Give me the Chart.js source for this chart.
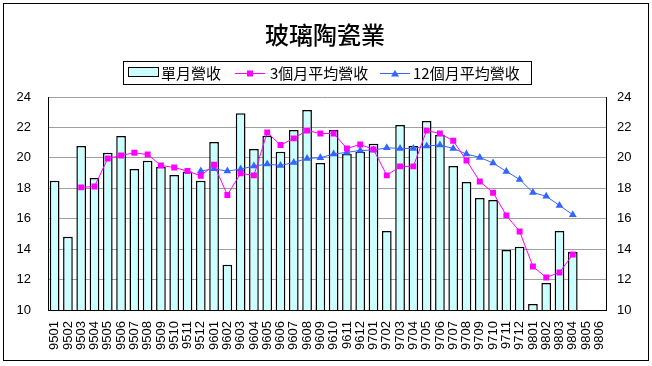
<!DOCTYPE html>
<html>
<head>
<meta charset="utf-8">
<script src="https://cdn.jsdelivr.net/npm/chart.js@4"></script>
<style>
  html,body{margin:0;padding:0;background:#fff;}
  canvas{display:block;}
</style>
</head>
<body>
<canvas id="grafico" width="652" height="366"></canvas>
<script>
// datos
const meses = ['9501','9502','9503','9504','9505','9506','9507','9508','9509','9510','9511','9512',
  '9601','9602','9603','9604','9605','9606','9607','9608','9609','9610','9611','9612',
  '9701','9702','9703','9704','9705','9706','9707','9708','9709','9710','9711','9712',
  '9801','9802','9803','9804','9805','9806']
const ingresoMensual = [18.50,14.82,20.78,18.67,20.33,21.43,19.26,19.81,19.42,18.87,19.11,18.50,
  21.04,12.98,22.94,20.58,21.45,20.40,21.83,23.14,19.66,21.83,20.25,20.40,
  20.93,15.19,22.16,20.78,22.42,21.52,19.46,18.41,17.36,17.23,13.94,14.16,
  10.39,11.77,15.19,13.81,null,null]
const promedio3 = [null,null,18.06,18.12,19.96,20.16,20.33,20.22,19.50,19.37,19.13,18.82,
  19.55,17.56,18.98,18.85,21.67,20.84,21.28,21.80,21.60,21.60,20.62,20.88,
  20.55,18.85,19.44,19.44,21.80,21.60,21.12,19.83,18.45,17.71,16.22,15.16,
  12.86,12.14,12.47,13.65,null,null]
const promedio12 = [null,null,null,null,null,null,null,null,null,null,null,19.13,
  19.28,19.13,19.26,19.46,19.59,19.50,19.70,19.96,20.01,20.25,20.36,20.49,
  20.51,20.66,20.62,20.62,20.78,20.84,20.62,20.25,20.03,19.66,19.11,18.58,
  17.73,17.47,16.87,16.26,null,null]
const titulo = '玻璃陶瓷業'
const etiquetas = ['單月營收','3個月平均營收','12個月平均營收']

const fuenteCJK = '"Noto Sans CJK TC","Noto Sans CJK SC",sans-serif'
const fuenteNum = '"Liberation Sans",Arial,sans-serif'

//plugin: marco, titulo y leyenda
const decoracion = {
  id:'decoracion',
  afterDraw(chart){
    const ctx = chart.ctx
    ctx.save()
    ctx.strokeStyle = '#000'
    ctx.lineWidth = 1
    ctx.strokeRect(3.5,3.5,645,357)

    ctx.fillStyle = '#000'
    ctx.font = '500 24px '+fuenteCJK
    ctx.textAlign = 'center'
    ctx.textBaseline = 'middle'
    ctx.fillText(titulo,325,35)

    //leyenda
    ctx.strokeRect(123.5,61.5,408,23)
    const cy = 73
    ctx.fillStyle = '#CCFFFF'
    ctx.fillRect(128.5,67.5,30,9)
    ctx.strokeRect(128.5,67.5,30,9)
    //linea magenta
    ctx.strokeStyle = '#FF00FF'
    ctx.beginPath(); ctx.moveTo(235,cy+0.5); ctx.lineTo(265,cy+0.5); ctx.stroke()
    ctx.fillStyle = '#FF00FF'
    ctx.fillRect(247,cy-2.5,6,6)
    //linea azul
    ctx.strokeStyle = '#3366FF'
    ctx.beginPath(); ctx.moveTo(380,cy+0.5); ctx.lineTo(410,cy+0.5); ctx.stroke()
    ctx.fillStyle = '#3366FF'
    ctx.beginPath(); ctx.moveTo(395,cy-3); ctx.lineTo(399,cy+3.5); ctx.lineTo(391,cy+3.5); ctx.closePath(); ctx.fill()

    ctx.fillStyle = '#000'
    ctx.font = '15px '+fuenteCJK
    ctx.textAlign = 'left'
    ctx.fillText(etiquetas[0],161,cy)
    ctx.fillText(etiquetas[1],270,cy)
    ctx.fillText(etiquetas[2],413,cy)
    ctx.restore()
  }
}

const canvas = document.getElementById('grafico')
new Chart(canvas.getContext('2d'),{
  data:{
    labels:meses,
    datasets:[
      {
        type:'line',
        label:etiquetas[1],
        data:promedio3,
        borderColor:'#FF00FF',
        backgroundColor:'#FF00FF',
        borderWidth:1,
        pointStyle:'rect',
        pointRadius:4.2,
        pointBorderWidth:0,
        order:1
      },
      {
        type:'line',
        label:etiquetas[2],
        data:promedio12,
        borderColor:'#3366FF',
        backgroundColor:'#3366FF',
        borderWidth:1,
        pointStyle:'triangle',
        pointRadius:4.5,
        pointBorderWidth:0,
        order:2
      },
      {
        type:'bar',
        label:etiquetas[0],
        data:ingresoMensual,
        backgroundColor:'#CCFFFF',
        borderColor:'#000',
        borderWidth:1.5,
        barPercentage:0.73,
        categoryPercentage:1,
        order:3
      }
    ]
  },
  options:{
    responsive:false,
    animation:false,
    devicePixelRatio:1,
    layout:{padding:{top:97,left:0,right:0,bottom:0}},
    plugins:{legend:{display:false},tooltip:{enabled:false},title:{display:false}},
    scales:{
      x:{
        grid:{display:false,drawTicks:false},
        border:{color:'#000',width:1},
        ticks:{
          autoSkip:false,maxRotation:90,minRotation:90,padding:11,
          color:'#000',font:{family:fuenteNum,size:13}
        },
        afterFit(scale){ scale.height = 56 }
      },
      y:{
        position:'left',
        min:10,max:24,
        grid:{color:'#A0A0A0',drawTicks:false},
        border:{color:'#000',width:1},
        ticks:{stepSize:2,padding:17,color:'#000',font:{family:fuenteNum,size:13}},
        afterFit(scale){ scale.width = 48 }
      },
      y2:{
        position:'right',
        min:10,max:24,
        grid:{display:false,drawTicks:false},
        border:{color:'#000',width:1},
        ticks:{stepSize:2,padding:11,color:'#000',font:{family:fuenteNum,size:13}},
        afterFit(scale){ scale.width = 46 }
      }
    }
  },
  plugins:[decoracion]
})
</script>
</body>
</html>
